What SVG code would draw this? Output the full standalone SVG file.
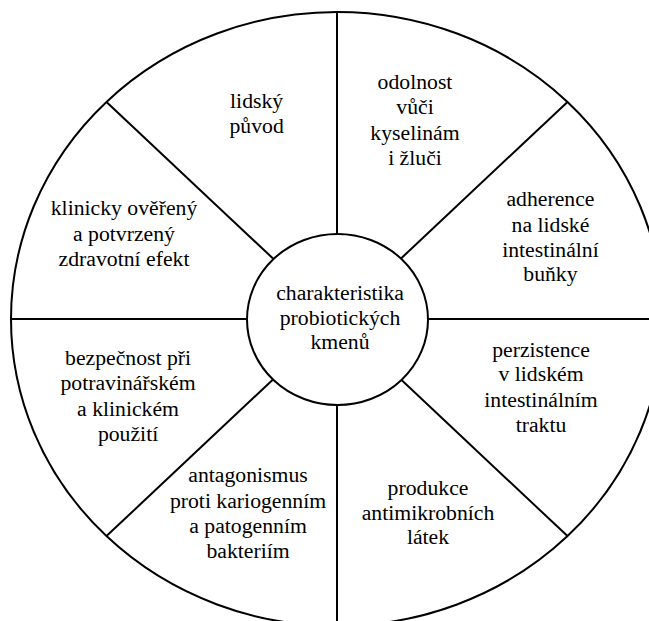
<svg xmlns="http://www.w3.org/2000/svg" width="649" height="621" viewBox="0 0 649 621">
  <style>
    .ring { fill: none; stroke: #000; stroke-width: 2; }
    .hub { fill: #fff; stroke: #000; stroke-width: 2; }
    .spoke { stroke: #000; stroke-width: 2; fill: none; }
    .lbl { font-family: "Liberation Serif", "Times New Roman", serif; font-size: 20.5px; fill: #000; text-anchor: middle; }
  </style>
  <rect x="0" y="0" width="649" height="621" fill="#fff"/>

  <!-- outer wheel -->
  <ellipse id="wheel" class="ring" cx="337" cy="319" rx="326" ry="307"/>

  <!-- spokes dividing the wheel into eight sectors -->
  <g id="connectors">
    <line class="spoke" x1="337" y1="12" x2="337" y2="234"/>
    <line class="spoke" x1="337" y1="405" x2="337" y2="626"/>
    <line class="spoke" x1="11" y1="319" x2="247" y2="319"/>
    <line class="spoke" x1="428" y1="319" x2="663" y2="319"/>
    <line class="spoke" x1="401" y1="258.5" x2="567.5" y2="101.9"/>
    <line class="spoke" x1="273" y1="258.5" x2="106.5" y2="101.9"/>
    <line class="spoke" x1="273" y1="379.5" x2="106.5" y2="536.1"/>
    <line class="spoke" x1="401" y1="379.5" x2="567.5" y2="536.1"/>
  </g>

  <!-- centre hub -->
  <g id="hub">
    <ellipse class="hub" cx="337.5" cy="319.5" rx="90.5" ry="85.5"/>
  </g>

  <!-- labels are set slightly wide, so x values are divided by 1.06 -->
  <g transform="scale(1.06 1)">
    <g id="hub-label">
      <text class="lbl" x="320.8" y="300">charakteristika</text>
      <text class="lbl" x="320.8" y="325">probiotických</text>
      <text class="lbl" x="320.8" y="349">kmenů</text>
    </g>
    <g id="origin">
      <text class="lbl" x="242.1" y="108">lidský</text>
      <text class="lbl" x="242.1" y="133">původ</text>
    </g>
    <g id="resistance">
      <text class="lbl" x="391.5" y="89">odolnost</text>
      <text class="lbl" x="391.5" y="114">vůči</text>
      <text class="lbl" x="391.5" y="140">kyselinám</text>
      <text class="lbl" x="391.5" y="165">i žluči</text>
    </g>
    <g id="adherence">
      <text class="lbl" x="519.3" y="206">adherence</text>
      <text class="lbl" x="519.3" y="232">na lidské</text>
      <text class="lbl" x="519.3" y="257">intestinální</text>
      <text class="lbl" x="519.3" y="281">buňky</text>
    </g>
    <g id="persistence">
      <text class="lbl" x="510.4" y="357">perzistence</text>
      <text class="lbl" x="510.4" y="381">v lidském</text>
      <text class="lbl" x="510.4" y="407">intestinálním</text>
      <text class="lbl" x="510.4" y="432">traktu</text>
    </g>
    <g id="antimicrobials">
      <text class="lbl" x="403.8" y="495">produkce</text>
      <text class="lbl" x="403.8" y="520">antimikrobních</text>
      <text class="lbl" x="403.8" y="544">látek</text>
    </g>
    <g id="antagonism">
      <text class="lbl" x="234" y="482">antagonismus</text>
      <text class="lbl" x="234" y="508">proti kariogenním</text>
      <text class="lbl" x="234" y="533">a patogenním</text>
      <text class="lbl" x="234" y="558">bakteriím</text>
    </g>
    <g id="safety">
      <text class="lbl" x="120.8" y="365">bezpečnost při</text>
      <text class="lbl" x="120.8" y="390">potravinářském</text>
      <text class="lbl" x="120.8" y="416">a klinickém</text>
      <text class="lbl" x="120.8" y="441">použití</text>
    </g>
    <g id="clinical">
      <text class="lbl" x="117" y="215">klinicky ověřený</text>
      <text class="lbl" x="117" y="241">a potvrzený</text>
      <text class="lbl" x="117" y="266">zdravotní efekt</text>
    </g>
  </g>
</svg>
